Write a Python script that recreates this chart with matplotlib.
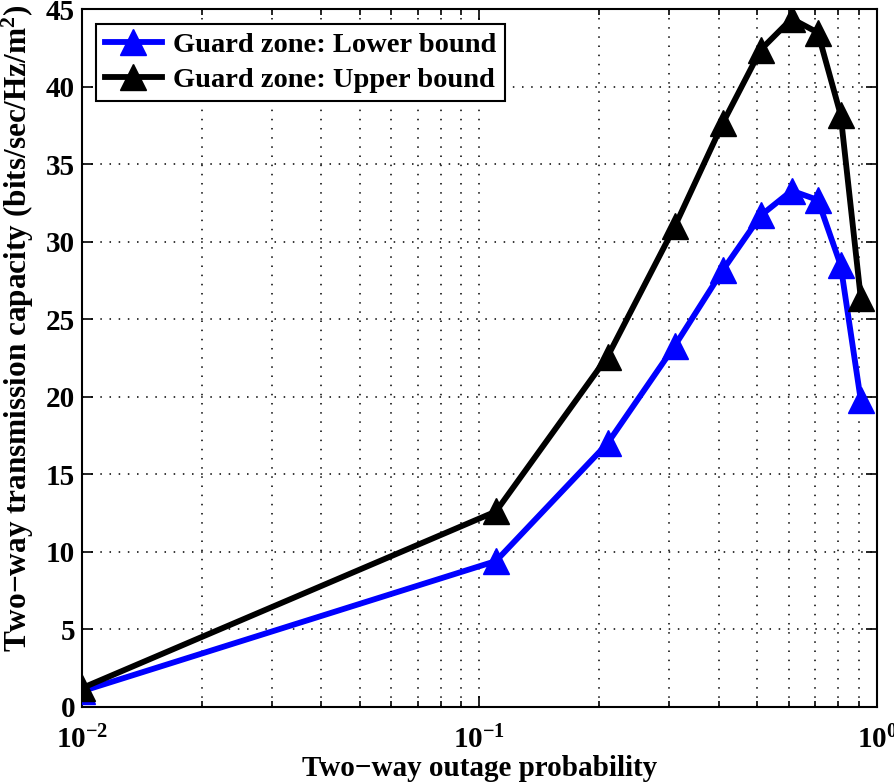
import matplotlib
matplotlib.use("Agg")
import matplotlib.pyplot as plt
from matplotlib.ticker import FixedLocator, LogLocator, NullFormatter, FuncFormatter
import math

plt.rcParams['font.family'] = ['Liberation Serif', 'DejaVu Serif']
plt.rcParams['font.weight'] = 'bold'
plt.rcParams['mathtext.fontset'] = 'custom'
plt.rcParams['mathtext.rm'] = 'Liberation Serif:bold'
plt.rcParams['mathtext.bf'] = 'Liberation Serif:bold'
plt.rcParams['mathtext.it'] = 'Liberation Serif:bold:italic'
plt.rcParams['mathtext.default'] = 'bf'

x = [0.01, 0.11, 0.21, 0.31, 0.41, 0.51, 0.61, 0.71, 0.81, 0.91]
lower = [1.0, 9.4, 17.0, 23.3, 28.2, 31.7, 33.3, 32.7, 28.5, 19.8]
upper = [1.2, 12.6, 22.6, 31.0, 37.7, 42.4, 44.4, 43.5, 38.2, 26.4]
labels = ['Guard zone: Lower bound', 'Guard zone: Upper bound']
yticks = [0, 5, 10, 15, 20, 25, 30, 35, 40, 45]

fig = plt.figure(figsize=(8.94, 7.84), dpi=100)
ax = fig.add_axes([0.0917, 0.0986, 0.981 - 0.0917, 0.988 - 0.0986])

ax.semilogx(x, lower, '-^', color='blue', lw=4.2, ms=19, label=labels[0], zorder=3)
ax.semilogx(x, upper, '-^', color='black', lw=4.2, ms=19, label=labels[1], zorder=3)

ax.set_xlim(0.01, 1)
ax.set_ylim(0, 45)
ax.set_yticks(yticks)
ax.xaxis.set_major_locator(FixedLocator([0.01, 0.1, 1]))
ax.xaxis.set_minor_locator(LogLocator(base=10, subs=range(2, 10)))
ax.xaxis.set_minor_formatter(NullFormatter())
def fmt(v, pos):
    e = int(round(math.log10(v)))
    return r'$\mathbf{10^{%d}}$' % e
ax.xaxis.set_major_formatter(FuncFormatter(fmt))

ax.grid(True, which='major', linestyle=(0, (1, 5)), color='black', lw=1.1)
ax.grid(True, which='minor', axis='x', linestyle=(0, (1, 5)), color='black', lw=1.1)
ax.tick_params(which='both', direction='in', top=True, right=True, labelsize=21, width=1.2)
ax.tick_params(which='major', length=8)
ax.tick_params(which='minor', length=4)
ax.tick_params(axis='x', which='major', pad=14)
ax.tick_params(axis='y', which='major', pad=5)
for s in ax.spines.values():
    s.set_linewidth(1.5)

ax.set_xlabel('Two\u2212way outage probability', fontsize=21, fontweight='bold', labelpad=0)
ax.set_ylabel('Two\u2212way transmission capacity (bits/sec/Hz/m$^2$)', fontsize=22.5, fontweight='bold')
ax.yaxis.set_label_coords(-0.058, 0.543)

leg = ax.legend(loc='upper left', fontsize=20.5, frameon=True, fancybox=False,
                edgecolor='black', framealpha=1, handlelength=2.0, borderaxespad=0.5,
                labelspacing=0.3, handletextpad=0.4, borderpad=0.3)
leg.get_frame().set_linewidth(1.5)

fig.savefig('out.png', dpi=100)
